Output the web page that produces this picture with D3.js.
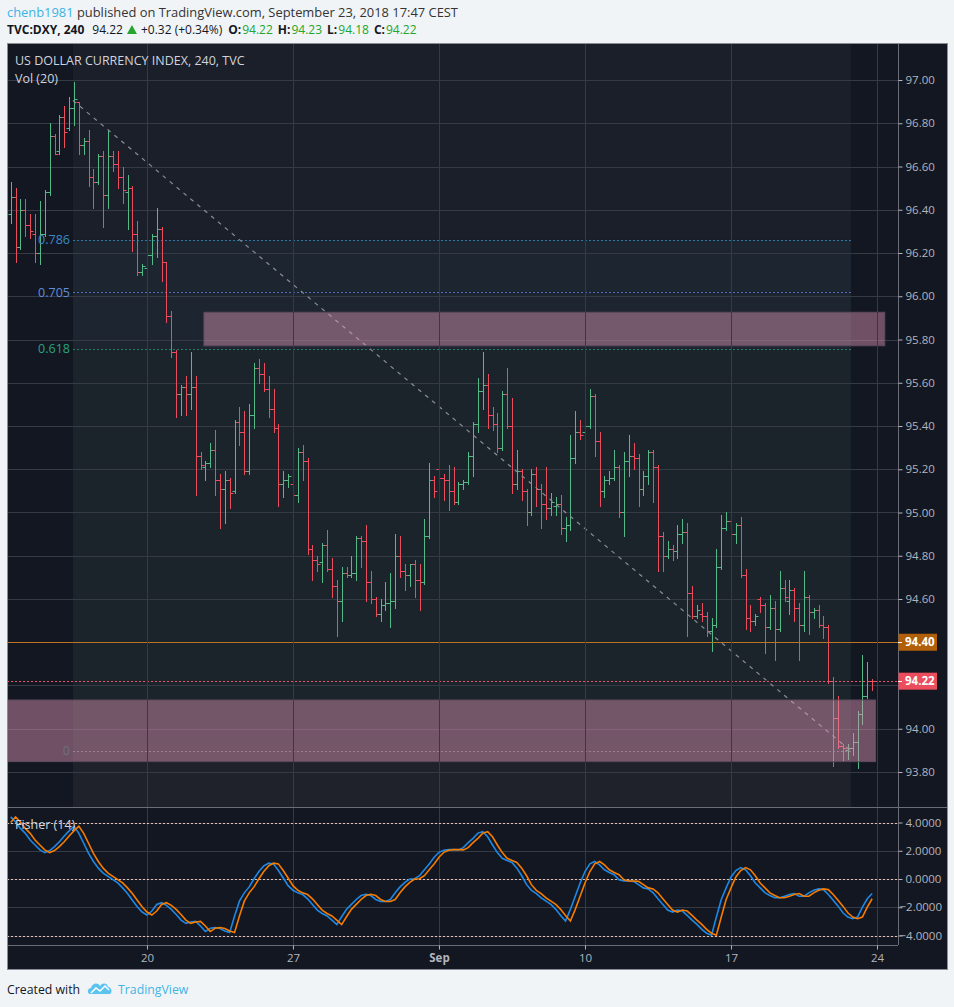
<!DOCTYPE html>
<html>
<head>
<meta charset="utf-8">
<title>DXY 240</title>
<script src="https://d3js.org/d3.v7.min.js"></script>
<style>
  html, body { margin: 0; padding: 0; background: #f1f4f7; }
  svg { display: block; }
  text { font-family: "Open Sans", "DejaVu Sans", sans-serif; }
</style>
</head>
<body>
<svg id="chart" width="954" height="1007"></svg>
<script>
// ---- header / meta ----
const author = "chenb1981";
const published = " published on TradingView.com, September 23, 2018 17:47 CEST";
const symbol = "TVC:DXY, 240";
const lastPrice = "94.22";
const change = "+0.32 (+0.34%)";
const ohlcNames = ["O:", "H:", "L:", "C:"];
const ohlcValues = ["94.22", "94.23", "94.18", "94.22"];

// ---- 4h bars, Aug 13 - Sep 21 2018 (bar 28 = Aug 20) ----
const opens = [96.38,96.46,96.23,96.40,96.33,96.29,96.20,96.29,96.48,96.74,96.67,96.83,96.78,96.87,96.90,96.70,96.72,96.55,96.53,96.65,
  96.47,96.65,96.61,96.55,96.48,96.50,96.29,96.11,96.13,96.19,96.28,96.31,96.16,95.91,95.74,95.55,95.58,95.55,95.58,95.26,
  95.21,95.23,95.29,95.15,95.11,95.15,95.10,95.42,95.37,95.19,95.45,95.67,95.64,95.57,95.48,95.39,95.13,95.15,95.13,95.08,
  95.28,95.24,94.83,94.78,94.77,94.85,94.74,94.66,94.59,94.72,94.71,94.72,94.88,94.87,94.68,94.60,94.53,94.57,94.58,94.59,
  94.80,94.73,94.71,94.76,94.69,94.68,94.89,95.15,95.20,95.16,95.15,95.10,95.05,95.13,95.14,95.26,95.41,95.56,95.59,95.45,
  95.41,95.30,95.55,95.40,95.13,95.19,95.10,95.00,95.18,95.11,95.04,95.02,95.03,95.04,94.93,94.94,95.25,95.37,95.37,95.40,
  95.54,95.33,95.10,95.15,95.16,95.21,95.00,95.24,95.26,95.25,95.11,95.17,95.28,95.21,94.89,94.80,94.83,94.82,94.90,94.91,
  94.63,94.52,94.53,94.52,94.45,94.48,94.75,94.93,94.96,94.90,94.94,94.71,94.51,94.50,94.60,94.57,94.47,94.56,94.46,94.65,
  94.59,94.64,94.56,94.48,94.61,94.54,94.55,94.48,94.47,94.22,94.05,93.92,93.90,93.91,93.94,94.07,94.15,94.22];
const highs = [96.53,96.50,96.45,96.45,96.38,96.38,96.44,96.49,96.80,96.75,96.84,96.88,96.92,96.99,96.90,96.73,96.77,96.59,96.66,96.67,
  96.77,96.67,96.67,96.60,96.56,96.51,96.35,96.15,96.20,96.29,96.41,96.32,96.16,95.93,95.75,95.59,95.63,95.74,95.63,95.28,
  95.24,95.32,95.38,95.18,95.19,95.16,95.43,95.49,95.47,95.50,95.69,95.71,95.69,95.63,95.57,95.41,95.19,95.18,95.15,95.30,
  95.31,95.25,94.85,94.80,94.86,94.92,94.79,94.69,94.75,94.75,94.80,94.89,94.89,94.94,94.73,94.61,94.60,94.68,94.72,94.90,
  94.89,94.76,94.76,94.78,94.76,94.97,95.23,95.17,95.23,95.18,95.22,95.21,95.14,95.15,95.28,95.42,95.62,95.74,95.64,95.49,
  95.46,95.56,95.67,95.53,95.29,95.20,95.11,95.20,95.21,95.13,95.21,95.09,95.07,95.08,94.98,95.36,95.47,95.43,95.46,95.57,
  95.55,95.37,95.17,95.19,95.29,95.22,95.28,95.36,95.32,95.27,95.19,95.29,95.29,95.22,94.91,94.87,94.85,94.94,94.97,94.95,
  94.66,94.57,94.58,94.54,94.51,94.83,94.99,95.00,94.98,94.95,94.98,94.74,94.57,94.53,94.61,94.58,94.62,94.59,94.73,94.69,
  94.69,94.65,94.58,94.73,94.62,94.56,94.57,94.52,94.48,94.24,94.15,93.93,93.93,93.98,94.08,94.34,94.31,94.23];
const lows = [96.34,96.16,96.22,96.28,96.27,96.16,96.15,96.28,96.47,96.66,96.66,96.69,96.77,96.79,96.66,96.66,96.51,96.41,96.52,96.32,
  96.41,96.58,96.50,96.43,96.31,96.21,96.10,96.10,96.11,96.15,96.18,96.07,95.88,95.72,95.44,95.45,95.45,95.48,95.08,95.20,
  95.15,95.21,95.08,94.93,94.95,95.02,95.09,95.31,95.18,95.18,95.39,95.60,95.56,95.44,95.37,95.03,95.07,95.12,94.99,95.05,
  95.15,94.81,94.69,94.73,94.68,94.73,94.61,94.43,94.50,94.70,94.70,94.69,94.75,94.59,94.58,94.52,94.50,94.55,94.47,94.56,
  94.70,94.64,94.66,94.61,94.55,94.67,94.88,95.07,95.06,95.06,95.01,95.04,95.04,95.11,95.13,95.17,95.37,95.48,95.39,95.38,
  95.28,95.29,95.39,95.09,95.11,95.06,94.94,94.99,95.03,94.93,94.97,94.99,94.99,94.90,94.87,94.92,95.23,95.34,95.35,95.39,
  95.26,95.03,95.07,95.13,95.15,94.98,94.89,95.17,95.20,95.03,95.08,95.13,95.05,94.73,94.73,94.79,94.78,94.79,94.86,94.43,
  94.51,94.51,94.50,94.43,94.36,94.47,94.74,94.92,94.89,94.86,94.70,94.46,94.45,94.48,94.54,94.35,94.46,94.32,94.45,94.59,
  94.53,94.50,94.32,94.45,94.44,94.51,94.47,94.42,94.21,93.83,93.91,93.85,93.86,93.88,93.82,94.02,94.14,94.18];
const closes = [96.46,96.23,96.40,96.33,96.30,96.20,96.29,96.48,96.74,96.66,96.83,96.76,96.87,96.91,96.70,96.72,96.55,96.53,96.65,96.47,
  96.65,96.61,96.55,96.49,96.50,96.29,96.11,96.14,96.19,96.28,96.31,96.16,95.91,95.74,95.55,95.58,95.55,95.58,95.26,95.22,
  95.23,95.29,95.15,95.11,95.15,95.09,95.42,95.37,95.19,95.45,95.67,95.64,95.57,95.48,95.39,95.13,95.15,95.17,95.08,95.28,
  95.24,94.83,94.78,94.76,94.85,94.74,94.66,94.59,94.72,94.71,94.72,94.88,94.87,94.68,94.60,94.53,94.57,94.58,94.59,94.80,
  94.73,94.71,94.76,94.69,94.68,94.89,95.15,95.10,95.16,95.15,95.10,95.05,95.13,95.14,95.26,95.41,95.56,95.59,95.45,95.41,
  95.30,95.55,95.40,95.13,95.19,95.10,95.00,95.18,95.11,95.04,95.02,95.05,95.04,94.93,94.94,95.25,95.37,95.36,95.40,95.54,
  95.33,95.10,95.15,95.16,95.21,95.00,95.24,95.26,95.25,95.11,95.17,95.28,95.21,94.89,94.80,94.83,94.82,94.90,94.91,94.63,
  94.52,94.55,94.52,94.45,94.48,94.75,94.93,94.96,94.90,94.94,94.71,94.51,94.50,94.52,94.57,94.47,94.56,94.46,94.65,94.61,
  94.64,94.56,94.48,94.61,94.54,94.55,94.48,94.47,94.22,94.05,93.92,93.91,93.91,93.94,94.07,94.15,94.22,94.22];

// ---- Fisher (14), one value per bar; trigger is the previous bar's Fisher ----
const fisher = [4.40,4.04,3.58,3.23,2.76,2.41,2.06,1.87,2.01,2.29,2.64,3.04,3.41,3.74,3.23,2.53,1.82,1.24,0.77,0.42,
  0.18,-0.05,-0.28,-0.63,-1.03,-1.50,-1.97,-2.34,-2.55,-2.27,-1.80,-1.68,-1.87,-2.15,-2.51,-2.91,-3.14,-3.05,-3.00,-3.33,
  -3.72,-3.49,-3.44,-3.51,-3.68,-3.79,-2.62,-1.57,-0.98,-0.56,0.02,0.53,0.93,1.12,1.07,0.60,0.07,-0.47,-0.80,-0.98,
  -1.10,-1.40,-1.80,-2.20,-2.44,-2.62,-2.91,-3.23,-2.67,-2.15,-1.80,-1.45,-1.17,-1.08,-1.17,-1.45,-1.59,-1.59,-1.45,-0.98,
  -0.56,-0.24,0.00,0.02,0.23,0.65,1.07,1.54,1.89,2.04,2.08,2.08,2.06,2.22,2.57,2.88,3.25,3.35,2.99,2.41,
  1.87,1.47,1.31,1.17,0.77,0.23,-0.40,-0.80,-1.03,-1.33,-1.57,-1.80,-2.15,-2.58,-2.98,-2.15,-1.22,-0.28,0.53,1.07,
  1.24,1.00,0.65,0.46,0.30,-0.05,-0.14,-0.14,-0.17,-0.40,-0.63,-0.70,-0.98,-1.40,-1.80,-2.20,-2.34,-2.20,-2.27,-2.58,
  -2.91,-3.21,-3.56,-3.84,-3.98,-2.69,-1.45,-0.63,0.14,0.60,0.81,0.65,0.23,-0.28,-0.63,-0.98,-1.17,-1.33,-1.33,-1.22,
  -1.10,-1.03,-1.22,-1.22,-0.98,-0.80,-0.70,-0.75,-1.10,-1.50,-1.92,-2.39,-2.69,-2.81,-2.69,-1.99,-1.40,-1.03];
const triggerStart = 4.00;
const trigger = [triggerStart].concat(fisher.slice(0, -1));

// ---- axes ----
const priceTicks = [93.8,94.0,94.2,94.4,94.6,94.8,95.0,95.2,95.4,95.6,95.8,96.0,96.2,96.4,96.6,96.8,97.0];
const fisherTicks = [4, 2, 0, -2, -4];
const fisherLevels = [4, 0, -4];
const dateTickBars = [28, 58, 88, 118, 148, 178];
const dateTickLabels = ["20", "27", "Sep", "10", "17", "24"];

// ---- drawings ----
const fibAnchor = { bar0: 12.8, price1: 96.905, bar1: 172.65, price0: 93.897 };
const fibLevels = [0.786, 0.705, 0.618, 0];
const fibLabels = ["0.786", "0.705", "0.618", "0"];
const zoneBars = [[39.7, 179.6], [-5, 177.7]];
const zonePrices = [[95.926, 95.771], [94.133, 93.848]];
const hLinePrice = 94.40;

// ---- layout ----
const L = 7, R = 948, T = 43, B = 970, axisX = 898, mainBottom = 807, fishTop = 808, fishBottom = 945;
const up = "#53b987", down = "#eb4d5c";

const x = d3.scaleLinear().domain([0, 178]).range([10.7, 877]);
const y = d3.scaleLinear().domain([93.8, 97.0]).range([772, 80]);
const yf = d3.scaleLinear().domain([-4, 4]).range([935.5, 822.5]);
const fibPrice = lv => fibAnchor.price0 + lv * (fibAnchor.price1 - fibAnchor.price0);
const lastClose = closes[closes.length - 1];

const svg = d3.select("#chart");
const defs = svg.append("defs");
defs.append("clipPath").attr("id", "clipMain").append("rect")
  .attr("x", L).attr("y", T).attr("width", axisX - L).attr("height", mainBottom - T);
defs.append("clipPath").attr("id", "clipFish").append("rect")
  .attr("x", L).attr("y", fishTop).attr("width", axisX - L).attr("height", fishBottom - fishTop);

// header, pieces laid out left to right
function pieces(yy, parts, size) {
  let cx = 7;
  parts.forEach(p => {
    if (p.gap) { cx += p.gap; return; }
    if (p.tri) {
      svg.append("path").attr("d", `M${cx},${yy}L${cx + 10},${yy}L${cx + 5},${yy - 9}Z`).attr("fill", "#26a62f");
      cx += 11; return;
    }
    const t = svg.append("text").attr("x", cx).attr("y", yy).style("font-size", size + "px")
      .attr("fill", p.color || "#131722").style("font-weight", p.bold ? "bold" : "normal")
      .attr("xml:space", "preserve").text(p.text);
    cx += t.node().getComputedTextLength();
  });
}
pieces(17, [{ text: author, color: "#3bb3e4" }, { text: published, color: "#333" }], 12.9);
const line2 = [{ text: symbol, bold: true }, { gap: 8 }, { text: lastPrice }, { gap: 4 }, { tri: true }, { gap: 3 }, { text: change }, { gap: 6 }];
ohlcNames.forEach((n, i) => {
  line2.push({ text: n, bold: true }, { gap: 1 }, { text: ohlcValues[i], color: "#22a62b" }, { gap: 5 });
});
pieces(34, line2, 12);

// frame
svg.append("rect").attr("x", L).attr("y", T).attr("width", R - L).attr("height", B - T).attr("fill", "#131722");

// main pane
const gMain = svg.append("g").attr("clip-path", "url(#clipMain)");
const xf0 = x(fibAnchor.bar0), xf1 = x(fibAnchor.bar1);
const bandEdges = [T, y(fibPrice(0.786)), y(fibPrice(0.705)), y(fibPrice(0.618)), y(fibPrice(0)), mainBottom];
const bandFill = ["#1b1f29", "#1d2531", "#1c2530", "#1b242a", "#1f222b"];
gMain.selectAll("rect.band").data(bandFill).join("rect")
  .attr("x", xf0).attr("width", xf1 - xf0)
  .attr("y", (d, i) => bandEdges[i]).attr("height", (d, i) => bandEdges[i + 1] - bandEdges[i])
  .attr("fill", d => d);

// grid
const gridColor = "#363a45";
gMain.selectAll("line.hg").data(priceTicks).join("line")
  .attr("x1", L).attr("x2", axisX).attr("y1", d => Math.round(y(d)) + 0.5).attr("y2", d => Math.round(y(d)) + 0.5)
  .attr("stroke", gridColor);
svg.selectAll("line.vg").data(dateTickBars).join("line")
  .attr("x1", d => Math.round(x(d)) + 0.5).attr("x2", d => Math.round(x(d)) + 0.5)
  .attr("y1", T).attr("y2", fishBottom).attr("stroke", gridColor);

// fib level lines
const fibColors = ["#2f77a8", "#4f70b8", "#23806a", "#6b6e78"];
const fibText = ["#3b8ac4", "#5e8fd8", "#2aa47c", "#6e717b"];
gMain.selectAll("line.fib").data(fibLevels).join("line")
  .attr("x1", xf0).attr("x2", xf1)
  .attr("y1", d => Math.round(y(fibPrice(d))) + 0.5).attr("y2", d => Math.round(y(fibPrice(d))) + 0.5)
  .attr("stroke", (d, i) => fibColors[i]).attr("stroke-dasharray", "2,2");

// OHLC bars
const data = opens.map((o, i) => ({ i, o, h: highs[i], l: lows[i], c: closes[i] }));
gMain.selectAll("path.bar").data(data).join("path")
  .attr("d", d => {
    const xx = Math.round(x(d.i)) + 0.5;
    const yo = Math.round(y(d.o)) + 0.5, yc = Math.round(y(d.c)) + 0.5;
    return `M${xx},${Math.round(y(d.h))}V${Math.round(y(d.l)) + 1}M${xx - 3},${yo}H${xx}M${xx},${yc}H${xx + 3}`;
  })
  .attr("stroke", d => d.c > d.o ? up : down).attr("fill", "none").attr("stroke-width", 1);

// fib trend line
gMain.append("line")
  .attr("x1", xf0).attr("y1", y(fibAnchor.price1)).attr("x2", xf1).attr("y2", y(fibAnchor.price0))
  .attr("stroke", "#8a8d96").attr("stroke-dasharray", "4,5").attr("stroke-width", 1.2);

// zones
gMain.selectAll("rect.zone").data(zoneBars).join("rect")
  .attr("x", d => x(d[0])).attr("width", d => x(d[1]) - x(d[0]))
  .attr("y", (d, i) => y(zonePrices[i][0])).attr("height", (d, i) => y(zonePrices[i][1]) - y(zonePrices[i][0]))
  .attr("fill", "rgba(223,150,182,0.45)").attr("stroke", "#5e4a5c").attr("stroke-width", 1);

// horizontal line + last price line
gMain.append("line").attr("x1", L).attr("x2", axisX)
  .attr("y1", Math.round(y(hLinePrice)) + 0.5).attr("y2", Math.round(y(hLinePrice)) + 0.5)
  .attr("stroke", "#bb7426");
gMain.append("line").attr("x1", L).attr("x2", axisX)
  .attr("y1", Math.round(y(lastClose)) + 0.5).attr("y2", Math.round(y(lastClose)) + 0.5)
  .attr("stroke", "#ef5366").attr("stroke-dasharray", "2,2");

// fib labels
gMain.selectAll("text.fibl").data(fibLevels).join("text")
  .attr("x", xf0 - 3).attr("y", d => y(fibPrice(d))).attr("dy", "0.35em")
  .attr("text-anchor", "end").style("font-size", "12.5px")
  .attr("fill", (d, i) => fibText[i]).text((d, i) => fibLabels[i]);

// pane titles
svg.append("text").attr("x", 15).attr("y", 65).style("font-size", "12.5px").attr("fill", "#d1d4dc").text("US DOLLAR CURRENCY INDEX, 240, TVC");
svg.append("text").attr("x", 15).attr("y", 83).style("font-size", "12.5px").attr("fill", "#d1d4dc").text("Vol (20)");

// fisher pane
const gFish = svg.append("g").attr("clip-path", "url(#clipFish)");
gFish.selectAll("line.fg").data(fisherTicks).join("line")
  .attr("x1", L).attr("x2", axisX).attr("y1", d => Math.round(yf(d)) + 0.5).attr("y2", d => Math.round(yf(d)) + 0.5)
  .attr("stroke", gridColor);
gFish.selectAll("line.fl").data(fisherLevels).join("line")
  .attr("x1", L).attr("x2", axisX).attr("y1", d => Math.round(yf(d)) + 0.5).attr("y2", d => Math.round(yf(d)) + 0.5)
  .attr("stroke", "#e6c3b6").attr("stroke-dasharray", "2,2");
const fline = d3.line().x((d, i) => x(i)).y(d => yf(d));
gFish.append("path").datum(fisher).attr("d", fline).attr("fill", "none").attr("stroke", "#1e88e5").attr("stroke-width", 1.6);
gFish.append("path").datum(trigger).attr("d", fline).attr("fill", "none").attr("stroke", "#f57c00").attr("stroke-width", 1.6);
svg.append("text").attr("x", 15).attr("y", 829).style("font-size", "12.5px").attr("fill", "#d1d4dc").text("Fisher (14)");

// separators
const sep = "#6a6d78";
svg.append("line").attr("x1", L).attr("x2", R).attr("y1", mainBottom + 0.5).attr("y2", mainBottom + 0.5).attr("stroke", sep);
svg.append("line").attr("x1", L).attr("x2", axisX).attr("y1", fishBottom + 0.5).attr("y2", fishBottom + 0.5).attr("stroke", sep);
svg.append("line").attr("x1", axisX + 0.5).attr("x2", axisX + 0.5).attr("y1", T).attr("y2", fishBottom).attr("stroke", sep);

// price axis (labels hidden under the price tags are left out)
const tagPrices = [hLinePrice, lastClose];
const covered = d => tagPrices.some(p => Math.abs(y(p) - y(d)) < 13);
const pa = svg.append("g").attr("transform", `translate(${axisX + 0.5},0)`)
  .call(d3.axisRight(y).tickValues(priceTicks).tickFormat(d3.format(".2f")).tickSize(4).tickPadding(3));
pa.selectAll(".tick").filter(covered).select("text").remove();
const fa = svg.append("g").attr("transform", `translate(${axisX + 0.5},0)`)
  .call(d3.axisRight(yf).tickValues(fisherTicks).tickFormat(d3.format(".4f")).tickSize(4).tickPadding(3));
fa.selectAll(".tick text").filter(d => d < 0).attr("x", 1);
[pa, fa].forEach(g => {
  g.select(".domain").remove();
  g.selectAll(".tick line").attr("stroke", "#b2b5be");
  g.selectAll(".tick text").attr("fill", "#b2b5be").style("font-size", "11.5px").style("font-family", "Open Sans, sans-serif");
});

// price tags
function priceTag(price, color) {
  const yy = y(price);
  svg.append("rect").attr("x", axisX + 0.5).attr("y", yy - 8.5).attr("width", 38.5).attr("height", 17).attr("fill", color);
  svg.append("line").attr("x1", axisX).attr("x2", axisX + 4).attr("y1", Math.round(yy) + 0.5).attr("y2", Math.round(yy) + 0.5).attr("stroke", "#fff");
  svg.append("text").attr("x", axisX + 7).attr("y", yy).attr("dy", "0.35em").style("font-size", "11.5px")
    .style("font-weight", "bold").attr("fill", "#fff").text(d3.format(".2f")(price));
}
priceTag(hLinePrice, "#b25f0a");
priceTag(lastClose, "#eb4d5c");

// time axis
const ta = svg.append("g").attr("transform", `translate(0,${fishBottom + 0.5})`)
  .call(d3.axisBottom(x).tickValues(dateTickBars).tickFormat((d, i) => dateTickLabels[i]).tickSize(4).tickPadding(4));
ta.select(".domain").remove();
ta.selectAll(".tick line").attr("stroke", "#b2b5be");
ta.selectAll(".tick text").attr("fill", "#b2b5be").style("font-size", "11.5px").style("font-family", "Open Sans, sans-serif")
  .style("font-weight", (d, i) => dateTickLabels[i] === "Sep" ? "bold" : "normal");

// frame border
svg.append("rect").attr("x", L + 0.5).attr("y", T + 0.5).attr("width", R - L - 1).attr("height", B - T - 1)
  .attr("fill", "none").attr("stroke", "#8a8d95");

// footer
svg.append("text").attr("x", 7).attr("y", 994).style("font-size", "12.3px").attr("fill", "#131722").text("Created with");
const logo = svg.append("g").attr("transform", "translate(88,981)");
logo.append("path").attr("d", "M2,13 C-1,13 -1,7 3,7 C4,2 10,1 12,5 C14,1 20,2 20,6 C24,6 25,13 21,13 Z").attr("fill", "#5bc3ee");
logo.append("path").attr("d", "M3,12 L8,7 L12,10 L17,5 L21,9").attr("fill", "none").attr("stroke", "#fff").attr("stroke-width", 1.5);
svg.append("text").attr("x", 118).attr("y", 994).style("font-size", "12.3px").attr("fill", "#42b4e6").text("TradingView");
</script>
</body>
</html>
